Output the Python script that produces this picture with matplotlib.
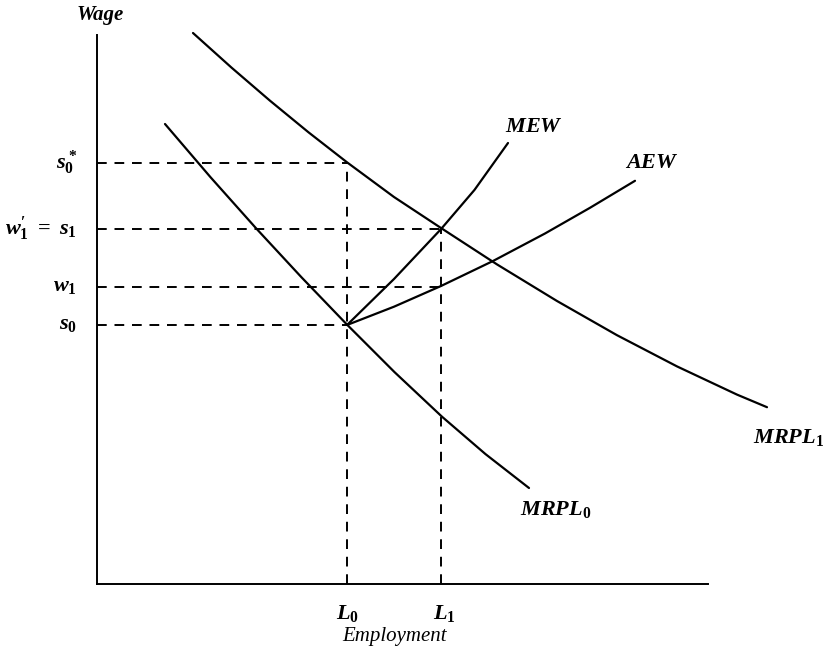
import matplotlib
matplotlib.use("Agg")
import matplotlib.pyplot as plt

plt.rcParams['mathtext.fontset'] = 'custom'
plt.rcParams['mathtext.rm'] = 'Liberation Serif:bold'
plt.rcParams['mathtext.it'] = 'Liberation Serif:italic:bold'
plt.rcParams['mathtext.bf'] = 'Liberation Serif:bold'
plt.rcParams['font.family'] = ['Liberation Serif', 'DejaVu Serif']

# Levels
L0, L1 = 250, 344
s0_star, s1, w1, s0 = 421, 355, 297, 259

# Curves (x = employment, y = wage)
mrpl0_x = [68, 113.5, 159, 204.5, 250, 297.5, 345, 388.5, 432]
mrpl0_y = [460, 406.8, 355.8, 306.7, 259.4, 211.9, 167.3, 129.9, 96]

mrpl1_x = [96, 134.5, 173, 211.5, 250, 297, 344, 400, 460, 520, 580, 640, 670]
mrpl1_y = [551, 516.4, 483.3, 451.7, 421.7, 387, 356, 319.6, 283, 248.8, 217.6, 189.4, 176.8]

mew_x = [250, 297, 344, 377.5, 411]
mew_y = [259, 305, 354.9, 394.1, 441]

aew_x = [250, 297, 344, 396, 448, 493, 538]
aew_y = [259, 277.3, 298, 323, 350.5, 376.2, 403.2]

W, H = 825, 663
fig = plt.figure(figsize=(W / 100, H / 100), dpi=100)
ox, oy = 97, 584
xend, ytop = 708, 35
ax = fig.add_axes([ox / W, (H - oy) / H, (xend - ox) / W, (oy - ytop) / H])
ax.set_xlim(0, xend - ox)
ax.set_ylim(0, oy - ytop)
for s in ['top', 'right']:
    ax.spines[s].set_visible(False)
for s in ['left', 'bottom']:
    ax.spines[s].set_linewidth(1.4)
ax.set_xticks([])
ax.set_yticks([])

lw = 1.6
kw = dict(color='black', lw=lw, clip_on=False, solid_capstyle='round',
          solid_joinstyle='round')
ax.plot(mrpl0_x, mrpl0_y, **kw)
ax.plot(mrpl1_x, mrpl1_y, **kw)
ax.plot(mew_x, mew_y, **kw)
ax.plot(aew_x, aew_y, **kw)

dkw = dict(color='black', lw=1.4, ls=(0, (5, 4)), clip_on=False)
ax.plot([0, L0], [s0_star, s0_star], **dkw)
ax.plot([0, L1], [s1, s1], **dkw)
ax.plot([0, L1], [w1, w1], **dkw)
ax.plot([0, L0], [s0, s0], **dkw)
ax.plot([L0, L0], [0, s0_star], **dkw)
ax.plot([L1, L1], [0, s1], **dkw)

fs = 16
tkw = dict(fontsize=fs, clip_on=False, color='black')
# y labels
xl = -20
ax.text(xl, s0_star, r'$s_0^*$', ha='right', va='center', **tkw)
ax.text(xl, s1, r"$w_1'\ =\ s_1$", ha='right', va='center', **tkw)
ax.text(xl, w1, r'$w_1$', ha='right', va='center', **tkw)
ax.text(xl, s0, r'$s_0$', ha='right', va='center', **tkw)
# x labels
ax.text(L0, -30, r'$L_0$', ha='center', va='center', **tkw)
ax.text(L1 + 3, -30, r'$L_1$', ha='center', va='center', **tkw)
ax.text(298, -53, 'Employment', ha='center', va='center', style='italic',
        fontsize=15, clip_on=False)
ax.text(3, 569, 'Wage', ha='center', va='center', style='italic', weight='bold',
        fontsize=15, clip_on=False)
# curve labels
ax.text(437, 456, r'$MEW$', ha='center', va='center', **tkw)
ax.text(555, 421, r'$AEW$', ha='center', va='center', **tkw)
ax.text(692, 147, r'$MRPL_1$', ha='center', va='center', **tkw)
ax.text(459, 74, r'$MRPL_0$', ha='center', va='center', **tkw)

fig.savefig('out.png', dpi=100)
